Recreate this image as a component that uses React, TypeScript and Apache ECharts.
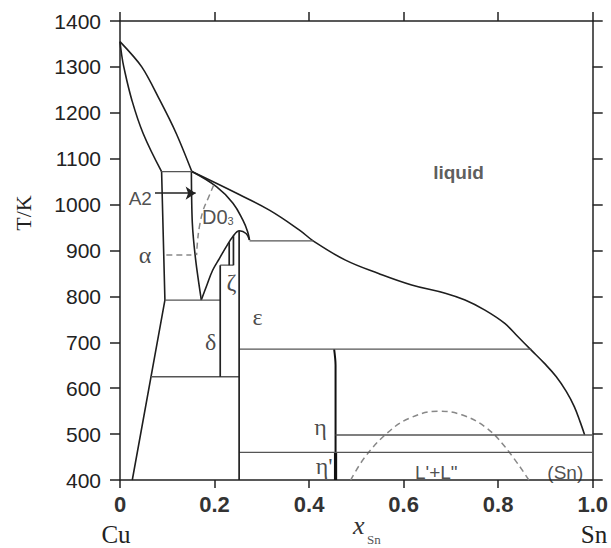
import React, { useEffect, useRef } from 'react';
import * as echarts from 'echarts';

// ---- axis ticks ----
const xTicks = [0, 0.2, 0.4, 0.6, 0.8, 1.0];
const xTickLabels = ['0', '0.2', '0.4', '0.6', '0.8', '1.0'];
const yTicks = [400, 500, 600, 700, 800, 900, 1000, 1100, 1200, 1300, 1400];
const yTickLabels = ['400', '500', '600', '700', '800', '900', '1000', '1100', '1200', '1300', '1400'];

// ---- phase boundaries [x_Sn, T/K] ----
const liquidusCu = [[0, 1355], [0.046, 1300], [0.084, 1228], [0.119, 1155], [0.152, 1072]];
const solidusCu = [[0, 1355], [0.003, 1330], [0.008, 1300], [0.025, 1228], [0.049, 1155], [0.088, 1072]];
const alphaSolvus = [[0.088, 1072], [0.095, 792], [0.026, 400]];
const betaRight = [[0.151, 1072], [0.153, 960], [0.160, 880], [0.172, 792]];
const gammaUpper = [[0.152, 1072], [0.204, 1039], [0.239, 1003], [0.260, 966], [0.270, 941], [0.274, 923]];
const gammaLower = [[0.172, 792], [0.1825, 821], [0.196, 857], [0.2105, 883], [0.2246, 908], [0.2385, 930], [0.2526, 943], [0.2667, 937], [0.274, 923]];
const liquidusMain = [[0.152, 1072], [0.25, 1023], [0.316, 988], [0.379, 945], [0.41, 920], [0.477, 879], [0.547, 850], [0.617, 825], [0.688, 807], [0.730, 792], [0.772, 770], [0.814, 741], [0.842, 712], [0.870, 683], [0.898, 654], [0.923, 625], [0.944, 593], [0.961, 560], [0.974, 525], [0.983, 498]];
const d03Boundary = [[0.198, 1042], [0.187, 1015], [0.176, 988], [0.168, 952], [0.164, 920], [0.162, 890]];
const miscibilityGap = [[0.488, 400], [0.519, 451], [0.565, 502], [0.611, 534], [0.674, 550], [0.723, 542], [0.772, 516], [0.814, 473], [0.865, 400]];
const etaUpper = [[0.453, 685], [0.456, 650], [0.456, 460]];
const etaPrime = [[0.456, 460], [0.456, 400]];

// isotherms: [T, xFrom, xTo]
const isotherms = [
  [1072, 0.088, 0.152],
  [921, 0.274, 0.41],
  [792, 0.095, 0.212],
  [868, 0.212, 0.240],
  [685, 0.252, 0.870],
  [625, 0.066, 0.252],
  [498, 0.456, 1.0],
  [460, 0.252, 1.0],
];
const dashedIsotherms = [[890, 0.098, 0.151]];
// vertical phase lines: [x, Tfrom, Tto]
const verticals = [
  [0.212, 868, 625],
  [0.231, 918, 868],
  [0.240, 931, 868],
  [0.252, 943, 400],
];
// arrow A2: [T, xFrom, xTo]
const arrowA2 = [1025, 0.074, 0.160];

// labels
const greekLabels = [
  { text: 'α', x: 0.053, T: 890 },
  { text: 'δ', x: 0.192, T: 700 },
  { text: 'ζ', x: 0.236, T: 832 },
  { text: 'ε', x: 0.291, T: 755 },
  { text: 'η', x: 0.424, T: 516 },
  { text: "η'", x: 0.432, T: 430 },
];
const sansLabels = [
  { text: 'A2', x: 0.043, T: 1014 },
  { text: 'L\'+L"', x: 0.669, T: 416 },
  { text: '(Sn)', x: 0.942, T: 417 },
];
const liquidLabel = { text: 'liquid', x: 0.716, T: 1071 };
const d03Label = { x: 0.207, T: 974 };

const SERIF = '"Liberation Serif", "DejaVu Serif", Times, serif';
const SANS = '"Liberation Sans", Arial, Helvetica, sans-serif';

export default function App() {
  const ref = useRef<HTMLDivElement>(null);
  useEffect(() => {
    if (!ref.current) return;
    const chart = echarts.init(ref.current, undefined, { renderer: 'svg' });

    const curve = { color: '#1e1e1e', width: 1.6 };
    const iso = { color: '#555', width: 1.3 };
    const dash = { color: '#888', width: 1.5, type: [6, 4] as any };

    const mk = (data: number[][], style: any, smooth: number | boolean = false) => ({
      type: 'line', data, symbol: 'none', silent: true, smooth, lineStyle: style, z: 3,
    });

    const series: any[] = [
      mk(liquidusCu, curve, 0.3),
      mk(solidusCu, curve, 0.4),
      mk(alphaSolvus, curve),
      mk(betaRight, curve, 0.3),
      mk(gammaUpper, curve, 0.4),
      mk(gammaLower, curve, 0.4),
      mk(liquidusMain, curve, 0.4),
      mk(d03Boundary, dash, 0.4),
      mk(miscibilityGap, dash, 0.4),
      mk(etaUpper, { color: '#111', width: 2 }, 0.3),
      mk(etaPrime, { color: '#111', width: 3.2 }),
      ...isotherms.map(([T, a, b]) => mk([[a, T], [b, T]], iso)),
      ...dashedIsotherms.map(([T, a, b]) => mk([[a, T], [b, T]], dash)),
      ...verticals.map(([x, a, b]) => mk([[x, a], [x, b]], { color: '#222', width: 1.7 })),
      {
        type: 'line', data: [], symbol: 'none', silent: true, z: 4,
        markLine: {
          silent: true, symbol: ['none', 'arrow'], symbolSize: 10,
          label: { show: false },
          lineStyle: { color: '#222', width: 1.5, type: 'solid' },
          emphasis: { disabled: true },
          data: [[{ coord: [arrowA2[1], arrowA2[0]], symbol: 'none' }, { coord: [arrowA2[2], arrowA2[0]], symbol: 'arrow', symbolSize: 10 }]],
        },
      },
      {
        type: 'scatter', silent: true, symbolSize: 1, itemStyle: { color: 'transparent' }, z: 5,
        data: greekLabels.map((l) => ({ value: [l.x, l.T], label: { formatter: l.text } })),
        label: { show: true, position: 'inside', fontFamily: SERIF, fontSize: 24, color: '#1a1a1a' },
      },
      {
        type: 'scatter', silent: true, symbolSize: 1, itemStyle: { color: 'transparent' }, z: 5,
        data: sansLabels.map((l) => ({ value: [l.x, l.T], label: { formatter: l.text } })),
        label: { show: true, position: 'inside', fontFamily: SANS, fontSize: 19, color: '#222' },
      },
      {
        type: 'scatter', silent: true, symbolSize: 1, itemStyle: { color: 'transparent' }, z: 5,
        data: [{ value: [liquidLabel.x, liquidLabel.T], label: { formatter: liquidLabel.text } }],
        label: { show: true, position: 'inside', fontFamily: SANS, fontSize: 19, fontWeight: 'bold', color: '#333' },
      },
      {
        type: 'scatter', silent: true, symbolSize: 1, itemStyle: { color: 'transparent' }, z: 5,
        data: [{ value: [d03Label.x, d03Label.T] }],
        label: {
          show: true, position: 'inside', formatter: '{a|D0}{b|3}', color: '#222',
          rich: {
            a: { fontFamily: SANS, fontSize: 20, color: '#222' },
            b: { fontFamily: SANS, fontSize: 11, color: '#222', verticalAlign: 'bottom' },
          },
        },
      },
    ];

    const axisLine = { show: true, onZero: false, lineStyle: { color: '#222', width: 1.5 } };
    const tick = (len: number) => ({ show: true, inside: false, length: len, lineStyle: { color: '#222', width: 1.5 } });
    const lookup = (ticks: number[], labels: string[]) => (v: number) => {
      const i = ticks.findIndex((t) => Math.abs(t - v) < 1e-6);
      return i >= 0 ? labels[i] : '';
    };

    chart.setOption({
      animation: false,
      backgroundColor: '#fff',
      grid: { left: 120, right: 16, top: 21, bottom: 68, containLabel: false },
      xAxis: [
        {
          type: 'value', min: xTicks[0], max: xTicks[xTicks.length - 1], interval: 0.2, position: 'bottom',
          axisLine, axisTick: tick(8), splitLine: { show: false },
          axisLabel: {
            margin: 13, fontSize: 22, fontWeight: 'bold', color: '#333', fontFamily: SANS,
            showMinLabel: true, showMaxLabel: true, formatter: lookup(xTicks, xTickLabels),
          },
        },
        {
          type: 'value', min: xTicks[0], max: xTicks[xTicks.length - 1], interval: 0.2, position: 'top',
          axisLine, axisTick: tick(9), axisLabel: { show: false }, splitLine: { show: false },
        },
      ],
      yAxis: [
        {
          type: 'value', min: yTicks[0], max: yTicks[yTicks.length - 1], interval: 100, position: 'left',
          axisLine, axisTick: tick(10), splitLine: { show: false },
          axisLabel: {
            margin: 19, fontSize: 21, color: '#222', fontFamily: SANS, showMinLabel: true, showMaxLabel: true,
            formatter: lookup(yTicks, yTickLabels),
          },
        },
        {
          type: 'value', min: yTicks[0], max: yTicks[yTicks.length - 1], interval: 100, position: 'right',
          axisLine, axisTick: tick(10), axisLabel: { show: false }, splitLine: { show: false },
        },
      ],
      graphic: [
        { type: 'text', x: 23, y: 213, rotation: Math.PI / 2, style: { text: 'T/K', fontFamily: SERIF, fontSize: 22, fill: '#222', align: 'center', verticalAlign: 'middle' } },
        { type: 'text', x: 116, y: 534, style: { text: 'Cu', fontFamily: SERIF, fontSize: 25, fill: '#222', align: 'center', verticalAlign: 'middle' } },
        { type: 'text', x: 594, y: 534, style: { text: 'Sn', fontFamily: SERIF, fontSize: 25, fill: '#222', align: 'center', verticalAlign: 'middle' } },
        { type: 'text', x: 353, y: 525, style: { text: 'x', fontFamily: SERIF, fontStyle: 'italic', fontSize: 26, fill: '#333', align: 'left', verticalAlign: 'middle' } },
        { type: 'text', x: 367, y: 539, style: { text: 'Sn', fontFamily: SERIF, fontSize: 13, fill: '#555', align: 'left', verticalAlign: 'middle' } },
      ],
      series,
    });
    return () => chart.dispose();
  }, []);
  return <div ref={ref} style={{ position: 'absolute', left: 0, top: 0, width: 611, height: 548 }} />;
}
